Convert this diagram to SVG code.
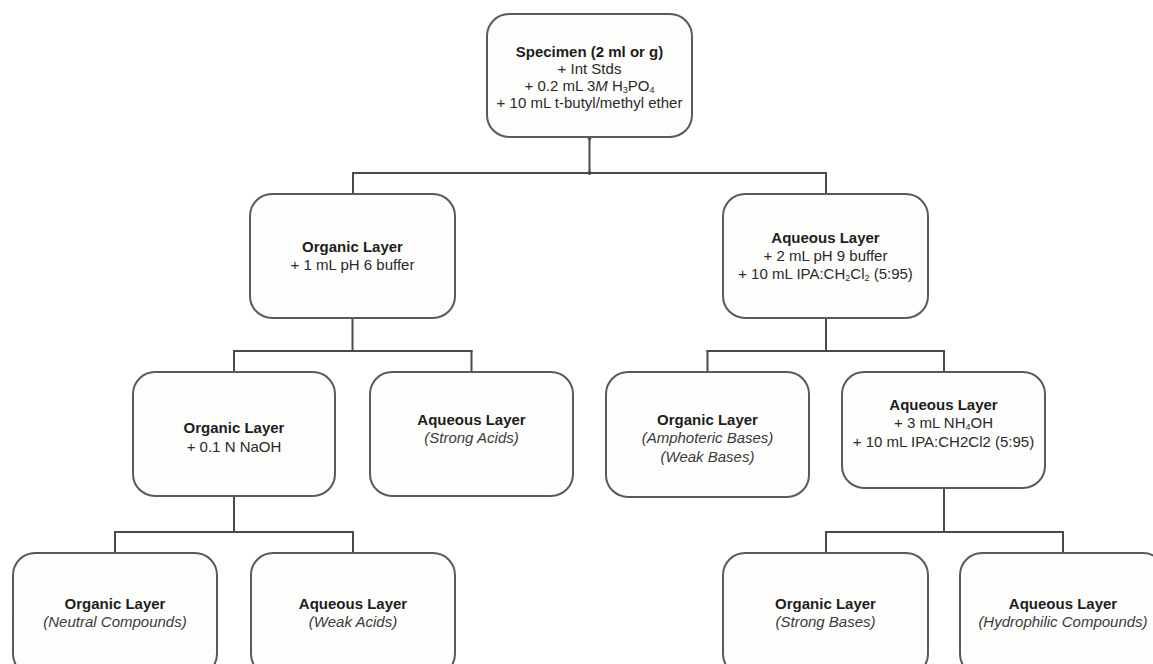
<svg xmlns="http://www.w3.org/2000/svg" width="1153" height="664" viewBox="0 0 1153 664">
<style>
.box{fill:#fdfdfb;stroke:#5a5a5a;stroke-width:2}
.t{font-family:"Liberation Sans",Arial,sans-serif;font-size:15px;fill:#2a2a2a;text-anchor:middle}
.b{font-weight:bold;fill:#1e1e1e}
.i{font-style:italic;fill:#3a3a3a}
.sub{font-size:9px}
.conn line{stroke:#4a4a4a;stroke-width:2;stroke-linecap:square}
.dot{fill:#4a4a4a}
</style>
<rect width="1153" height="664" fill="#ffffff"/>
<g class="conn" id="connectors">
<line x1="589.5" y1="137" x2="589.5" y2="173"/>
<line x1="353" y1="173" x2="826" y2="173"/>
<line x1="353" y1="173" x2="353" y2="194"/>
<line x1="826" y1="173" x2="826" y2="194"/>
<circle class="dot" cx="589.5" cy="138" r="2"/>
<circle class="dot" cx="589.5" cy="173" r="2"/>
<line x1="352.5" y1="318" x2="352.5" y2="351"/>
<line x1="234" y1="351" x2="471.5" y2="351"/>
<line x1="234" y1="351" x2="234" y2="372"/>
<line x1="471.5" y1="351" x2="471.5" y2="372"/>
<line x1="826" y1="318" x2="826" y2="351"/>
<line x1="707.5" y1="351" x2="944" y2="351"/>
<line x1="707.5" y1="351" x2="707.5" y2="372"/>
<line x1="944" y1="351" x2="944" y2="372"/>
<line x1="234" y1="496" x2="234" y2="532"/>
<line x1="115" y1="532" x2="353" y2="532"/>
<line x1="115" y1="532" x2="115" y2="553"/>
<line x1="353" y1="532" x2="353" y2="553"/>
<line x1="944" y1="488" x2="944" y2="532"/>
<line x1="826" y1="532" x2="1063" y2="532"/>
<line x1="826" y1="532" x2="826" y2="553"/>
<line x1="1063" y1="532" x2="1063" y2="553"/>
</g>
<g id="specimen">
<rect class="box" x="487" y="14" width="205" height="123" rx="22"/>
<text class="t b" x="589.5" y="57">Specimen (2 ml or g)</text>
<text class="t" x="589.5" y="74">+ Int Stds</text>
<text class="t" x="589.5" y="91">+ 0.2 mL 3<tspan font-style="italic">M</tspan> H<tspan class="sub" dy="2">3</tspan><tspan dy="-2">PO</tspan><tspan class="sub" dy="2">4</tspan></text>
<text class="t" x="589.5" y="108">+ 10 mL t-butyl/methyl ether</text>
</g>
<g id="organic1">
<rect class="box" x="250" y="194" width="205" height="124" rx="22"/>
<text class="t b" x="352.5" y="252">Organic Layer</text>
<text class="t" x="352.5" y="270">+ 1 mL pH 6 buffer</text>
</g>
<g id="aqueous1">
<rect class="box" x="723" y="194" width="205" height="124" rx="22"/>
<text class="t b" x="825.5" y="243">Aqueous Layer</text>
<text class="t" x="825.5" y="261">+ 2 mL pH 9 buffer</text>
<text class="t" x="825.5" y="279">+ 10 mL IPA:CH<tspan class="sub" dy="2">2</tspan><tspan dy="-2">Cl</tspan><tspan class="sub" dy="2">2</tspan><tspan dy="-2"> (5:95)</tspan></text>
</g>
<g id="organic2">
<rect class="box" x="133" y="372" width="202" height="124" rx="22"/>
<text class="t b" x="234" y="433">Organic Layer</text>
<text class="t" x="234" y="452">+ 0.1 N NaOH</text>
</g>
<g id="strongacids">
<rect class="box" x="370" y="372" width="203" height="124" rx="22"/>
<text class="t b" x="471.5" y="425">Aqueous Layer</text>
<text class="t i" x="471.5" y="443">(Strong Acids)</text>
</g>
<g id="amphoteric">
<rect class="box" x="606" y="372" width="203" height="125" rx="22"/>
<text class="t b" x="707.5" y="425">Organic Layer</text>
<text class="t i" x="707.5" y="443">(Amphoteric Bases)</text>
<text class="t i" x="707.5" y="462">(Weak Bases)</text>
</g>
<g id="aqueous2">
<rect class="box" x="842" y="372" width="203" height="116" rx="22"/>
<text class="t b" x="943.5" y="410">Aqueous Layer</text>
<text class="t" x="943.5" y="428">+ 3 mL NH<tspan class="sub" dy="2">4</tspan><tspan dy="-2">OH</tspan></text>
<text class="t" x="943.5" y="447">+ 10 mL IPA:CH2Cl2 (5:95)</text>
</g>
<g id="neutral">
<rect class="box" x="13" y="553" width="204" height="123" rx="22"/>
<text class="t b" x="115" y="609">Organic Layer</text>
<text class="t i" x="115" y="627">(Neutral Compounds)</text>
</g>
<g id="weakacids">
<rect class="box" x="251" y="553" width="204" height="123" rx="22"/>
<text class="t b" x="353" y="609">Aqueous Layer</text>
<text class="t i" x="353" y="627">(Weak Acids)</text>
</g>
<g id="strongbases">
<rect class="box" x="723" y="553" width="205" height="123" rx="22"/>
<text class="t b" x="825.5" y="609">Organic Layer</text>
<text class="t i" x="825.5" y="627">(Strong Bases)</text>
</g>
<g id="hydrophilic">
<rect class="box" x="960" y="553" width="205" height="123" rx="22"/>
<text class="t b" x="1063" y="609">Aqueous Layer</text>
<text class="t i" x="1063" y="627">(Hydrophilic Compounds)</text>
</g>
</svg>
